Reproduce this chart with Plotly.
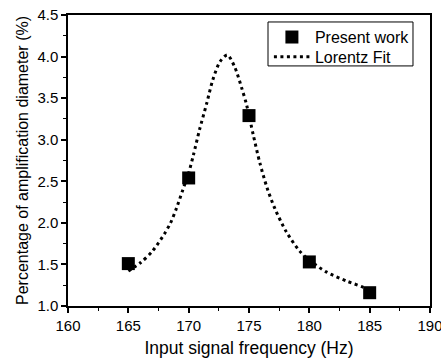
import plotly.graph_objects as go

freq = [165, 170, 175, 180, 185]
percent = [1.51, 2.54, 3.29, 1.53, 1.16]

fit_x = [165.0, 166.0, 167.0, 168.0, 168.5, 169.0, 169.5, 170.0, 170.4, 170.9, 171.5, 172.0,
         172.6, 173.2, 173.8, 174.4, 174.8, 175.35, 175.9, 176.5, 177.15, 178.1, 179.2,
         180.0, 181.4, 183.1, 184.4, 185.0]
fit_y = [1.42, 1.52, 1.66, 1.87, 2.00, 2.18, 2.39, 2.60, 2.82, 3.12, 3.44, 3.72,
         3.94, 4.02, 3.88, 3.62, 3.42, 3.06, 2.72, 2.42, 2.17, 1.89, 1.66,
         1.55, 1.41, 1.30, 1.23, 1.19]

FONT = "Liberation Sans, Arial, sans-serif"

fig = go.Figure()
fig.add_trace(go.Scatter(
    x=freq, y=percent, mode="markers", name="Present work",
    marker=dict(symbol="square", size=13, color="black"),
    legend="legend",
))
fig.add_trace(go.Scatter(
    x=fit_x, y=fit_y, mode="lines", name="Lorentz Fit",
    line=dict(color="black", width=3, dash="3px,3.5px", shape="spline", smoothing=0.8),
    legend="legend2",
))

leg_common = dict(
    xanchor="left", yanchor="middle",
    borderwidth=0, bgcolor="rgba(0,0,0,0)",
    font=dict(family=FONT, size=16),
    itemwidth=36,
)

fig.update_layout(
    width=441, height=361,
    margin=dict(l=68, r=11, t=15, b=55),
    plot_bgcolor="white", paper_bgcolor="white",
    font=dict(family=FONT, color="black", size=15),
    showlegend=True,
    legend=dict(x=0.555, y=0.924, **leg_common),
    legend2=dict(x=0.555, y=0.856, **leg_common),
    shapes=[dict(type="rect", xref="paper", yref="paper",
                 x0=0.5525, x1=0.953, y0=0.825, y1=0.976,
                 line=dict(color="black", width=1), layer="below")],
)
fig.update_xaxes(
    range=[160, 190], dtick=5, tick0=160, automargin=False, ticklabeloverflow="allow",
    ticks="outside", ticklen=5, tickwidth=1.5, tickcolor="black",
    minor=dict(ticks="outside", dtick=2.5, ticklen=3, tickwidth=1.2, tickcolor="black"),
    showline=True, linecolor="black", linewidth=1.5, mirror=True,
    showgrid=False, zeroline=False,
    tickfont=dict(family=FONT, size=15),
    title=dict(text="Input signal frequency (Hz)", font=dict(family=FONT, size=17.5), standoff=9),
)
fig.update_yaxes(
    range=[1.0, 4.5], dtick=0.5, tick0=1.0, tickformat=".1f", automargin=False,
    ticklabeloverflow="allow",
    ticks="outside", ticklen=5, tickwidth=1.5, tickcolor="black",
    minor=dict(ticks="outside", dtick=0.25, ticklen=3, tickwidth=1.2, tickcolor="black"),
    showline=True, linecolor="black", linewidth=1.5, mirror=True,
    showgrid=False, zeroline=False,
    tickfont=dict(family=FONT, size=15),
    title=dict(text="Percentage of amplification diameter (%)", font=dict(family=FONT, size=16), standoff=5),
)

fig.write_html("out.html")
